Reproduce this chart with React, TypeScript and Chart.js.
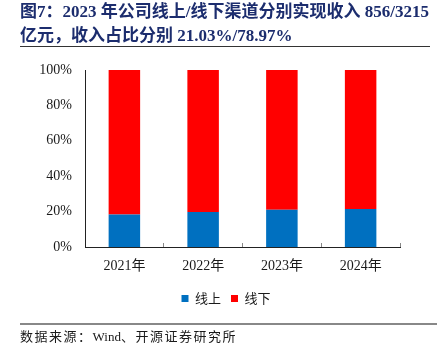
import React, { useEffect, useRef } from "react";
import { Chart, registerables } from "chart.js";

Chart.register(...registerables);

const categories = ["2021年", "2022年", "2023年", "2024年"];
const onlineShare = [18.3, 19.8, 21.03, 21.4];
const offlineShare = [81.7, 80.2, 78.97, 78.6];
const seriesNames = ["线上", "线下"];
const yTicks = [0, 20, 40, 60, 80, 100];

const SERIF = "'Liberation Serif', 'Noto Sans CJK SC', serif";

const legendShift = {
  id: "legendShift",
  afterLayout(chart: any) {
    const lg = chart.legend;
    if (lg) {
      lg.left = 52;
    }
  },
};

export default function App() {
  const ref = useRef<HTMLCanvasElement | null>(null);

  useEffect(() => {
    if (!ref.current) return;
    const chart = new Chart(ref.current, {
      type: "bar",
      data: {
        labels: categories,
        datasets: [
          {
            label: seriesNames[0],
            data: onlineShare,
            backgroundColor: "#0070C0",
            barPercentage: 0.4,
            categoryPercentage: 1,
          },
          {
            label: seriesNames[1],
            data: offlineShare,
            backgroundColor: "#FF0000",
            barPercentage: 0.4,
            categoryPercentage: 1,
          },
        ],
      },
      plugins: [legendShift],
      options: {
        responsive: false,
        animation: false,
        layout: { padding: { left: 0, right: 37, top: 70, bottom: 36 } },
        plugins: {
          legend: {
            position: "bottom",
            labels: {
              boxWidth: 7,
              boxHeight: 7,
              padding: 10,
              color: "#1a1a1a",
              font: { family: "'Noto Sans CJK SC', sans-serif", size: 13 },
            },
          },
          tooltip: { enabled: false },
        },
        scales: {
          x: {
            stacked: true,
            offset: true,
            grid: {
              offset: true,
              drawOnChartArea: false,
              drawTicks: true,
              tickLength: -4,
              color: "#888888",
            },
            border: { display: true, color: "#222222", width: 1 },
            ticks: {
              color: "#1a1a1a",
              padding: 15,
              font: { family: SERIF, size: 14 },
            },
            afterFit: (s: any) => {
              s.height = 35;
            },
          },
          y: {
            stacked: true,
            min: 0,
            max: 100,
            afterBuildTicks: (s: any) => {
              s.ticks = yTicks.map((v) => ({ value: v }));
            },
            grid: { display: false, drawTicks: false },
            border: { display: true, color: "#222222", width: 1 },
            ticks: {
              color: "#1a1a1a",
              padding: 13,
              font: { family: SERIF, size: 14 },
              callback: (v: any) => v + "%",
            },
            afterFit: (s: any) => {
              s.width = 85;
            },
          },
        },
      },
    });
    return () => chart.destroy();
  }, []);

  return (
    <div
      style={{
        position: "fixed",
        left: 0,
        top: 0,
        width: 437,
        height: 351,
        background: "#fff",
        overflow: "hidden",
      }}
    >
      <canvas
        ref={ref}
        width={437}
        height={351}
        style={{ position: "absolute", left: 0, top: 0, width: 437, height: 351 }}
      />
      <div
        style={{
          position: "absolute",
          left: 20,
          top: 0,
          whiteSpace: "nowrap",
          fontFamily: SERIF,
          fontWeight: "bold",
          fontSize: 17,
          lineHeight: "24px",
          color: "#1c2d6e",
        }}
      >
        图7：2023 年公司线上/线下渠道分别实现收入 856/3215
        <br />
        亿元，收入占比分别 21.03%/78.97%
      </div>
      <div
        style={{
          position: "absolute",
          left: 20,
          top: 46,
          width: 410,
          height: 0,
          borderTop: "1.5px solid #333",
        }}
      />
      <div
        style={{
          position: "absolute",
          left: 20,
          top: 323,
          width: 417,
          height: 0,
          borderTop: "2px solid #888",
        }}
      />
      <div
        style={{
          position: "absolute",
          left: 20,
          top: 328,
          whiteSpace: "nowrap",
          fontFamily: SERIF,
          fontSize: 13,
          lineHeight: "18px",
          letterSpacing: "1.5px",
          color: "#1a1a1a",
        }}
      >
        数据来源：<span style={{ letterSpacing: 0 }}>Wind</span>、开源证券研究所
      </div>
    </div>
  );
}
